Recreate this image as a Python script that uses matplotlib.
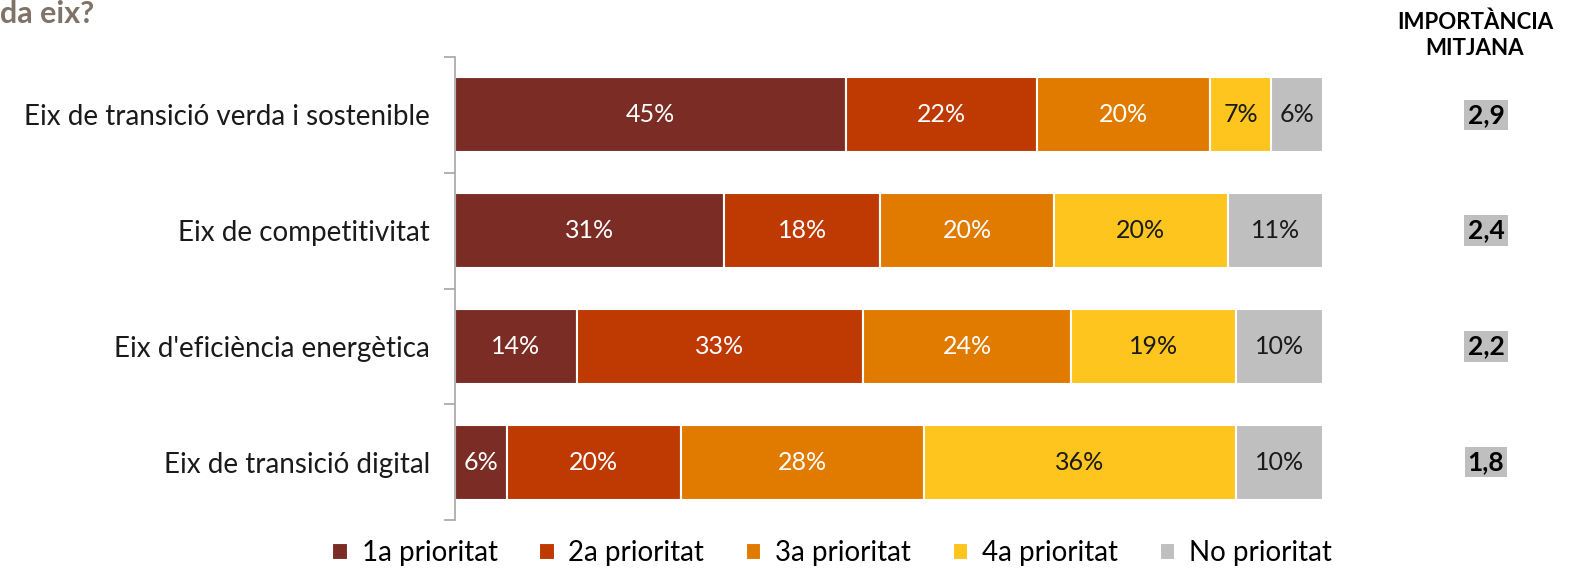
import matplotlib.pyplot as plt
import numpy as np

categories = ["Eix de transició verda i sostenible", "Eix de competitivitat",
              "Eix d'eficiència energètica", "Eix de transició digital"]
series = ["1a prioritat", "2a prioritat", "3a prioritat", "4a prioritat", "No prioritat"]
values = np.array([
    [45, 22, 20, 7, 6],
    [31, 18, 20, 20, 11],
    [14, 33, 24, 19, 10],
    [6, 20, 28, 36, 10],
])
importance = ["2,9", "2,4", "2,2", "1,8"]

colors = ["#7B2C24", "#BF3A03", "#E07B00", "#FEC51E", "#BFBFBF"]
text_colors = ["white", "white", "white", "#1a1a1a", "#1a1a1a"]

plt.rcParams['font.family'] = ['Lato', 'DejaVu Sans']

fig = plt.figure(figsize=(15.78, 5.74), dpi=100)
ax = fig.add_axes([455 / 1578, 1 - 520 / 574, 868 / 1578, 463 / 574])

y = np.arange(len(categories))
left = np.zeros(len(categories))
for j, name in enumerate(series):
    ax.barh(y, values[:, j], left=left, height=0.65, color=colors[j],
            edgecolor="white", linewidth=1.5, label=name)
    for i in range(len(categories)):
        ax.text(left[i] + values[i, j] / 2, y[i], f"{values[i, j]}%",
                ha="center", va="center", fontsize=18, color=text_colors[j])
    left += values[:, j]

ax.set_xlim(0, 100)
ax.set_ylim(3.5, -0.5)
ax.set_yticks(y)
ax.set_yticklabels(categories, fontsize=20, color="#1a1a1a")
ax.tick_params(axis="y", which="major", length=0, pad=18)
ax.set_yticks(np.arange(-0.5, 4, 1), minor=True)
ax.tick_params(axis="y", which="minor", length=8, color="#A6A6A6", width=1.2)
ax.set_xticks([])
for s in ["top", "right", "bottom"]:
    ax.spines[s].set_visible(False)
ax.spines["left"].set_color("#A6A6A6")
ax.spines["left"].set_linewidth(1.2)

# importance column
fig.text(1475 / 1578, 1 - 35 / 574, "IMPORTÀNCIA\nMITJANA", ha="center", va="center",
         fontsize=16, fontweight="bold", linespacing=1.3)
for i, v in enumerate(importance):
    ax.annotate(v, xy=(1, y[i]), xycoords=("axes fraction", "data"),
                xytext=(1486 / 1578, 0), textcoords=("figure fraction", "offset points"),
                ha="center", va="center", fontsize=19, fontweight="bold",
                bbox=dict(boxstyle="square,pad=0.12", fc="#BFBFBF", ec="none"))

# title, cut by the top of the image in the original
fig.text(0.0, 1.0, "da eix?", ha="left", va="top", fontsize=22,
         fontweight="bold", color="#7F7266")

ax.legend(loc="center", bbox_to_anchor=(832 / 1578, 1 - 553 / 574),
          bbox_transform=fig.transFigure, ncol=5, frameon=False, fontsize=20,
          handlelength=0.55, handleheight=0.55, handletextpad=0.5, columnspacing=1.5)

fig.savefig("out.png", dpi=100)
